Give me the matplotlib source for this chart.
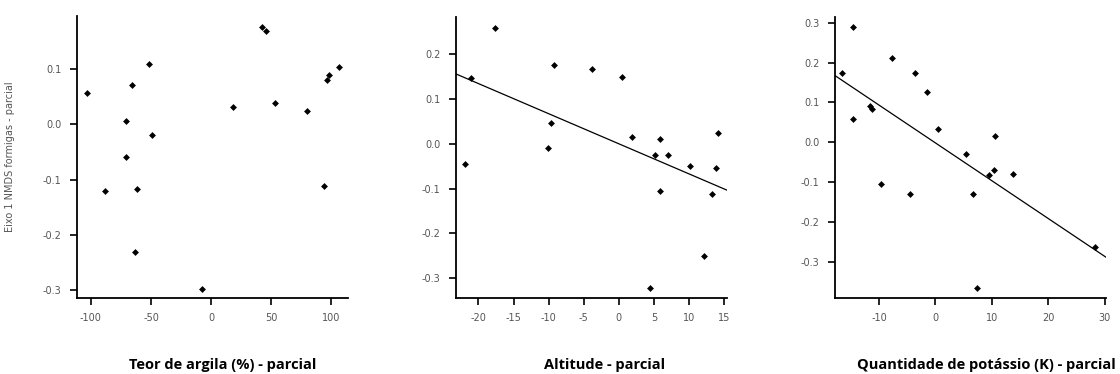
import numpy as np
import matplotlib
matplotlib.use('Agg')
import matplotlib.pyplot as plt

plt.rcParams['axes.unicode_minus'] = False

# partial residuals - clay content
argila_x = [-103.6, -88.4, -70.4, -70.4, -65.7, -62.0, -63.5, -51.8, -48.8, -7.2,
            18.2, 42.3, 45.9, 53.4, 79.6, 94.4, 96.3, 98.5, 106.2]
argila_y = [0.057, -0.121, 0.006, -0.059, 0.071, -0.116, -0.231, 0.109, -0.020, -0.297,
            0.032, 0.177, 0.168, 0.039, 0.025, -0.111, 0.081, 0.089, 0.104]

# partial residuals - altitude
alt_x = [-21.9, -21.1, -17.6, -10.1, -9.7, -9.3, -3.9, 0.5, 1.8, 4.5,
         5.1, 5.8, 5.8, 7.0, 10.1, 12.1, 13.3, 13.8, 14.1]
alt_y = [-0.046, 0.146, 0.259, -0.010, 0.047, 0.176, 0.167, 0.150, 0.016, -0.322,
         -0.024, 0.011, -0.105, -0.024, -0.050, -0.250, -0.113, -0.053, 0.024]

# partial residuals - potassium
k_x = [-16.5, -14.6, -14.6, -11.6, -11.2, -9.6, -7.7, -4.5, -3.7, -1.5,
       0.5, 5.4, 6.7, 7.4, 9.4, 10.3, 10.6, 13.7, 28.3]
k_y = [0.174, 0.289, 0.058, 0.091, 0.084, -0.104, 0.211, -0.130, 0.173, 0.125,
       0.033, -0.030, -0.130, -0.365, -0.083, -0.069, 0.016, -0.079, -0.263]

titles = ['Teor de argila (%) - parcial', 'Altitude - parcial',
          'Quantidade de potássio (K) - parcial']
ylabel = 'Eixo 1 NMDS formigas - parcial'

xticks = [[-100, -50, 0, 50, 100],
          [-20, -15, -10, -5, 0, 5, 10, 15],
          [-10, 0, 10, 20, 30]]
yticks = [[-0.3, -0.2, -0.1, 0.0, 0.1],
          [-0.3, -0.2, -0.1, 0.0, 0.1, 0.2],
          [-0.3, -0.2, -0.1, 0.0, 0.1, 0.2, 0.3]]

W, H = 1120, 374
fig = plt.figure(figsize=(W / 100, H / 100), dpi=100)

# axes boxes in pixels: left, top, right, bottom
boxes = [(77, 16, 348, 298), (456, 17, 727, 298), (835, 17, 1106, 298)]
xlims = [(-111.6, 114), (-23.2, 15.4), (-17.8, 30.2)]
ylims = [(-0.314, 0.196), (-0.344, 0.283), (-0.39, 0.314)]
fits = [False, True, True]
data = [(argila_x, argila_y), (alt_x, alt_y), (k_x, k_y)]
title_x = [223, 605, 1116]
title_ha = ['center', 'center', 'right']

for i in range(3):
    l, t, r, b = boxes[i]
    ax = fig.add_axes([l / W, 1 - b / H, (r - l) / W, (b - t) / H])
    x, y = data[i]
    ax.plot(x, y, 'D', color='black', ms=3.5, mew=0)
    if fits[i]:
        m, c = np.polyfit(x, y, 1)
        xx = np.array(xlims[i])
        ax.plot(xx, m * xx + c, color='black', lw=0.9)
    ax.set_xlim(xlims[i])
    ax.set_ylim(ylims[i])
    ax.set_xticks(xticks[i])
    ax.set_yticks(yticks[i])
    ax.set_yticklabels(['%.1f' % v for v in yticks[i]])
    for s in ['top', 'right']:
        ax.spines[s].set_visible(False)
    for s in ['left', 'bottom']:
        ax.spines[s].set_linewidth(1.3)
    ax.tick_params(direction='out', length=5, width=1.2, labelsize=7,
                   labelcolor='#555555', pad=6)
    fig.text(title_x[i] / W, 1 - 369 / H, titles[i],
             ha=title_ha[i], va='baseline', fontsize=10.5, fontweight='bold',
             family='Open Sans')

fig.text(10 / W, 1 - 157 / H, ylabel, rotation=90, ha='center', va='center',
         fontsize=7, color='#555555')

fig.savefig('out.png', dpi=100)
